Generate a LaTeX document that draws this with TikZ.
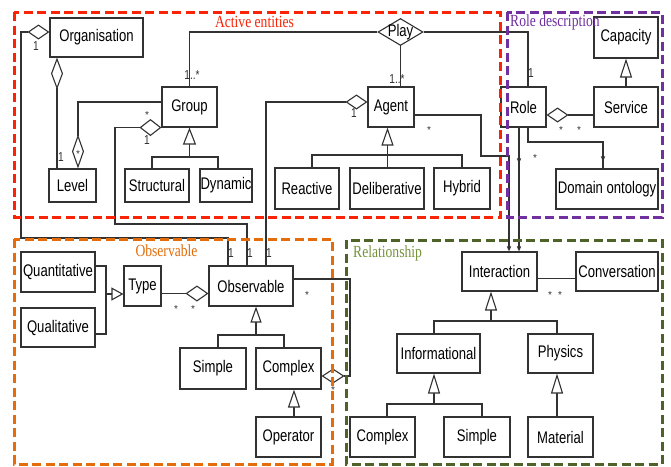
\documentclass[tikz,border=0pt]{standalone}
\usepackage{fontspec}
\setmainfont{Liberation Sans}
\newfontfamily\boxfont{Liberation Sans}[FakeStretch=0.78]
\newfontfamily\titlefont{Liberation Serif}[FakeStretch=0.8]
\usetikzlibrary{arrows.meta,shapes.geometric,decorations.markings}

\definecolor{linegray}{RGB}{50,50,50}
\definecolor{actred}{RGB}{250,35,5}
\definecolor{rolepurple}{RGB}{112,48,160}
\definecolor{obsorange}{RGB}{228,108,10}
\definecolor{relolive}{RGB}{79,98,40}
\definecolor{reltitle}{RGB}{118,146,60}

\tikzset{
  cls/.style={draw=linegray, line width=1.1pt, fill=white, inner sep=0pt,
    font=\boxfont\fontsize{16.8}{16.8}\selectfont},
  conn/.style={draw=linegray, line width=1.1pt},
  mult/.style={inner sep=0pt, text=linegray, font=\boxfont\fontsize{13}{13}\selectfont},
  star/.style={inner sep=0pt, text=linegray, font=\fontsize{10}{10}\selectfont},
  region/.style={line width=3pt, dash pattern=on 9pt off 4.5pt},
  regtitle/.style={inner sep=0pt, font=\titlefont\fontsize{17}{17}\selectfont},
  agg/.style 2 args={{Diamond[fill=white,length=#1,width=#2]}-},
  inh/.style 2 args={-{Triangle[fill=white,length=#1,width=#2]}},
  endtip/.style={-{Triangle[length=5pt,width=4pt]}},
  midtip/.style={postaction={decorate, decoration={markings,
    mark=at position #1 with {\arrow{Triangle[length=5pt,width=4pt]}}}}}
}

\begin{document}
\begin{tikzpicture}[x=1pt, y=-1pt]
\fill[white] (0,0) rectangle (671,466);
\useasboundingbox (0,0) rectangle (671,466);

% ---------- classes: active entities ----------
\node[cls, minimum width=93pt, minimum height=39pt] (org) at (96.5,37.5) {Organisation};
\node[cls, minimum width=55pt, minimum height=40pt] (group) at (189.5,107) {Group};
\node[cls, minimum width=47pt, minimum height=33pt] (level) at (72.5,185.5) {Level};
\node[cls, minimum width=64pt, minimum height=33pt] (structural) at (157,185.5) {Structural};
\node[cls, minimum width=52pt, minimum height=33pt] (dynamic) at (226,185.5) {Dynamic};
\node[cls, minimum width=46pt, minimum height=40pt] (agent) at (391,107) {Agent};
\node[cls, minimum width=64pt, minimum height=41pt] (reactive) at (307,188.5) {Reactive};
\node[cls, minimum width=74pt, minimum height=41pt] (deliberative) at (387,188.5) {Deliberative};
\node[cls, minimum width=56pt, minimum height=41pt] (hybrid) at (462,188.5) {Hybrid};
\node[diamond, draw=linegray, line width=1.1pt, fill=white, inner sep=0pt,
      minimum width=45pt, minimum height=27pt] (play) at (400.5,32) {};
\node[cls, draw=none, fill=none] (playtext) at (play.center) {Play};

% ---------- classes: role description ----------
\node[cls, minimum width=45pt, minimum height=40pt] (role) at (523.5,107) {Role};
\node[cls, minimum width=64pt, minimum height=41pt] (capacity) at (626,37.5) {Capacity};
\node[cls, minimum width=64pt, minimum height=40pt] (service) at (626,107) {Service};
\node[cls, minimum width=102pt, minimum height=40pt] (domain) at (607,189) {Domain ontology};

% ---------- classes: observable ----------
\node[cls, minimum width=74pt, minimum height=40pt] (quant) at (58,272) {Quantitative};
\node[cls, minimum width=74pt, minimum height=39pt] (qual) at (58,327.5) {Qualitative};
\node[cls, minimum width=37pt, minimum height=40pt] (type) at (142.5,286) {Type};
\node[cls, minimum width=84pt, minimum height=40pt] (obs) at (251,286) {Observable};
\node[cls, minimum width=66pt, minimum height=41pt] (osimple) at (213,368.5) {Simple};
\node[cls, minimum width=65pt, minimum height=41pt] (ocomplex) at (288.5,368.5) {Complex};
\node[cls, minimum width=65pt, minimum height=40pt] (operator) at (288.5,437) {Operator};

% ---------- classes: relationship ----------
\node[cls, minimum width=75pt, minimum height=39pt] (interaction) at (499.5,271.5) {Interaction};
\node[cls, minimum width=82pt, minimum height=39pt] (conversation) at (617,271.5) {Conversation};
\node[cls, minimum width=83pt, minimum height=39pt] (informational) at (438.5,353.5) {Informational};
\node[cls, minimum width=65pt, minimum height=39pt] (physics) at (560.5,353.5) {Physics};
\node[cls, minimum width=65pt, minimum height=40pt] (rcomplex) at (382.5,437) {Complex};
\node[cls, minimum width=66pt, minimum height=40pt] (rsimple) at (477,437) {Simple};
\node[cls, minimum width=65pt, minimum height=40pt] (material) at (560.5,437) {Material};

% ---------- bend points and junctions ----------
\coordinate (k1) at (21,238);
\coordinate (k2) at (115,224);
\coordinate (k3) at (481,156);
\coordinate (k4) at (603,142);
\coordinate (k5) at (350,279);
\coordinate (j1) at (189.5,157);
\coordinate (j2) at (387.5,155);
\coordinate (j3) at (106,294);
\coordinate (j4) at (256,335);
\coordinate (j5) at (491,321);
\coordinate (j6) at (434,404);

% ---------- associations and aggregations ----------
\draw[conn, agg={22pt}{15pt}] ([yshift=5.5pt]org.west) -| (k1) -| ([xshift=-23pt]obs.north);
\draw[conn, agg={32pt}{12pt}] ([xshift=-39.5pt]org.south) -- ([xshift=-15.5pt]level.north);
\draw[conn, agg={34pt}{12pt}] ([xshift=5.5pt]level.north) |- ([yshift=5pt]group.west);
\draw[conn] (group.north) |- (play.west);
\draw[conn] (play.south) -- ([xshift=9.5pt]agent.north);
\draw[conn] (play.east) -| ([xshift=4.5pt]role.north);
\draw[conn, agg={22pt}{17pt}] (group.south west) -| (k2) -| ([xshift=-4pt]obs.north);
\draw[conn, agg={22pt}{15pt}] ([yshift=5pt]agent.west) -| ([xshift=15pt]obs.north);
\draw[conn, endtip] ([yshift=-8pt]agent.east) -| (k3) -| ([xshift=9.5pt]interaction.north);
\draw[conn, endtip, midtip=0.29] ([xshift=-4.5pt]role.south) -- ([xshift=19.5pt]interaction.north);
\draw[conn, midtip=0.94] ([xshift=4.5pt]role.south) |- (k4) -- ([xshift=-4pt]domain.north);
\draw[conn, agg={22pt}{15pt}] ([yshift=-8pt]role.east) -- ([yshift=-8pt]service.west);
\draw[conn, agg={23pt}{16pt}] ([yshift=-7.5pt]obs.west) -- ([yshift=-7.5pt]type.east);
\draw[conn, agg={23pt}{15pt}] ([yshift=-7.5pt]ocomplex.east) -| (k5) -- ([yshift=7pt]obs.east);
\draw[conn] ([yshift=-7pt]interaction.east) -- ([yshift=-7pt]conversation.west);

% ---------- generalisations ----------
\draw[conn, inh={19pt}{12pt}] (service.north) -- (capacity.south);
\draw[conn, inh={17pt}{13pt}] (j1) -- (group.south);
\draw[conn] ([xshift=-5pt]structural.north) |- (j1) -| ([xshift=-8pt]dynamic.north);
\draw[conn, inh={18pt}{12pt}] (j2) -- (j2 |- agent.south);
\draw[conn] ([xshift=5pt]reactive.north) |- (j2) -| (hybrid.north);
\draw[conn] (j2) -- (j2 |- deliberative.north);
\draw[conn, inh={12pt}{13pt}] (j3) -- (j3 -| type.west);
\draw[conn] ([yshift=6pt]quant.east) -| (j3) |- ([yshift=-6.5pt]qual.east);
\draw[conn, inh={16pt}{11pt}] (j4) -- (j4 |- obs.south);
\draw[conn] ([xshift=5pt]osimple.north) |- (j4) -| ([xshift=-4.5pt]ocomplex.north);
\draw[conn, inh={18pt}{12pt}] ([xshift=5.5pt]operator.north) -- ([xshift=5.5pt]ocomplex.south);
\draw[conn, inh={19pt}{12pt}] (j5) -- (j5 |- interaction.south);
\draw[conn] ([xshift=-4.5pt]informational.north) |- (j5) -| ([xshift=-3.5pt]physics.north);
\draw[conn, inh={20pt}{12pt}] (j6) -- (j6 |- informational.south);
\draw[conn] ([xshift=4.5pt]rcomplex.north) |- (j6) -| ([xshift=5pt]rsimple.north);
\draw[conn, inh={20pt}{12pt}] ([xshift=-3.5pt]material.north) -- ([xshift=-3.5pt]physics.south);

% ---------- multiplicities ----------
\node[mult] (m1) at (36,46) {1};
\node[mult] (m2) at (61,157) {1};
\node[star] (m3) at (78,154) {*};
\node[mult] (m4) at (192,75) {1..*};
\node[mult] (m5) at (397,79) {1..*};
\node[mult] (m6) at (531,73) {1};
\node[star] (m7) at (147,115) {*};
\node[mult] (m8) at (147,140) {1};
\node[mult] (m9) at (354,113) {1};
\node[star] (m10) at (429,130) {*};
\node[star] (m11) at (535,158) {*};
\node[star] (m12) at (561,130) {*};
\node[star] (m13) at (579,130) {*};
\node[mult] (m14) at (231,253) {1};
\node[mult] (m15) at (250,253) {1};
\node[mult] (m16) at (269,253) {1};
\node[star] (m17) at (176,309) {*};
\node[star] (m18) at (193,309) {*};
\node[star] (m19) at (307,295) {*};
\node[star] (m20) at (333,390) {*};
\node[star] (m21) at (550,295) {*};
\node[star] (m22) at (560,295) {*};

% ---------- package frames ----------
\draw[region, draw=actred] (14,12) rectangle (500,217);
\draw[region, draw=rolepurple] (507,12) rectangle (662,217);
\draw[region, draw=obsorange] (14,239) rectangle (332,464);
\draw[region, draw=relolive] (346,240) rectangle (662,464);

\node[regtitle, text=actred] (t1) at (254.5,22) {Active entities};
\node[regtitle, text=rolepurple, anchor=west] (t2) at (510,22) {Role description};
\node[regtitle, text=obsorange] (t3) at (166.5,251) {Observable};
\node[regtitle, text=reltitle, anchor=west] (t4) at (353,253) {Relationship};
\end{tikzpicture}
\end{document}
